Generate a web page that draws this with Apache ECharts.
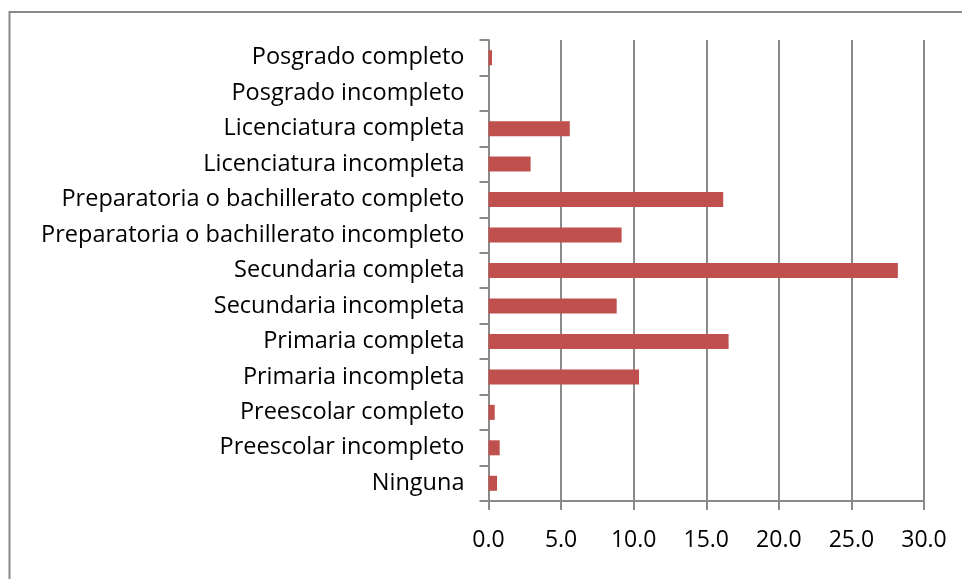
<!DOCTYPE html>
<html>
<head>
<meta charset="utf-8">
<script src="https://cdn.jsdelivr.net/npm/echarts@6/dist/echarts.min.js"></script>
<style>
  html, body { margin: 0; padding: 0; background: #fff; }
  #chart { width: 962px; height: 579px; }
</style>
</head>
<body>
<div id="chart"></div>
<script>
// categories listed bottom to top (category axis runs upward)
const categories = [
  'Ninguna',
  'Preescolar incompleto',
  'Preescolar completo',
  'Primaria incompleta',
  'Primaria completa',
  'Secundaria incompleta',
  'Secundaria completa',
  'Preparatoria o bachillerato incompleto',
  'Preparatoria o bachillerato completo',
  'Licenciatura incompleta',
  'Licenciatura completa',
  'Posgrado incompleto',
  'Posgrado completo',
];
const values = [0.59, 0.77, 0.43, 10.37, 16.54, 8.83, 28.2, 9.17, 16.17, 2.9, 5.6, 0, 0.24];

const axisGray = '#8a8a8a';
const font = 'Open Sans';

const chart = echarts.init(document.getElementById('chart'));

chart.setOption({
  animation: false,
  textStyle: { fontFamily: font },
  graphic: [
    {
      type: 'rect',
      shape: { x: 9.5, y: 12, width: 1000, height: 700 },
      style: { fill: 'none', stroke: axisGray, lineWidth: 2 },
      silent: true,
    },
  ],
  grid: {
    left: 488.5,
    right: 38,
    top: 40,
    bottom: 78,
    containLabel: false,
  },
  xAxis: {
    type: 'value',
    min: 0,
    max: 30,
    interval: 5,
    axisLine: { show: true, lineStyle: { color: axisGray, width: 2 } },
    axisTick: { show: true, length: 9, lineStyle: { color: axisGray, width: 2 } },
    splitLine: { show: true, lineStyle: { color: axisGray, width: 2 } },
    axisLabel: {
      color: '#000',
      fontSize: 23,
      fontFamily: font,
      margin: 28,
      formatter: (v) => v.toFixed(1),
    },
  },
  yAxis: {
    type: 'category',
    data: categories,
    axisLine: { show: true, lineStyle: { color: axisGray, width: 2 } },
    axisTick: { show: true, length: 9, lineStyle: { color: axisGray, width: 2 } },
    axisLabel: {
      color: '#000',
      fontSize: 23.5,
      fontFamily: font,
      margin: 24,
    },
  },
  series: [
    {
      type: 'bar',
      data: values,
      barWidth: 15,
      itemStyle: { color: '#C0504D' },
    },
  ],
});
</script>
</body>
</html>
